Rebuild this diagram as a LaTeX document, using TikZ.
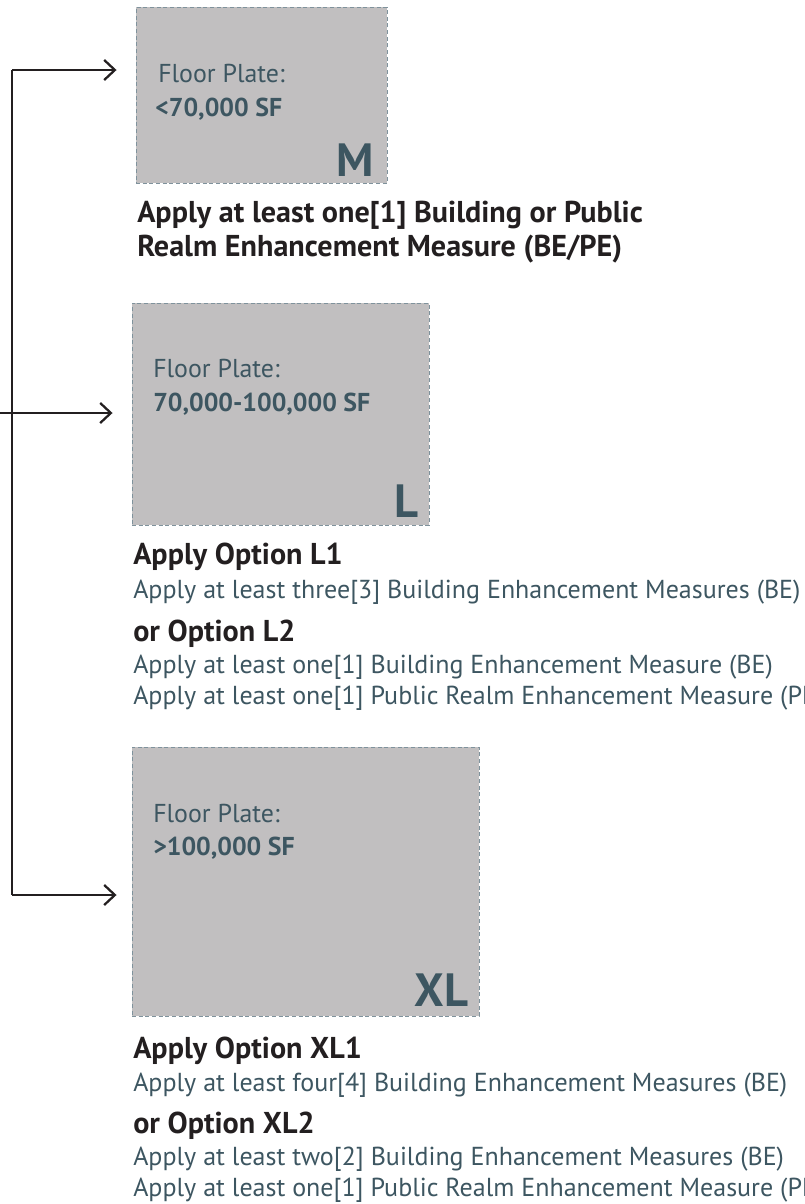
\documentclass[tikz,border=0pt]{standalone}
\usepackage{fontspec}
\setmainfont{PT Sans}
\usepackage{tikz}
\usetikzlibrary{arrows.meta,positioning,fit}
\definecolor{platec}{HTML}{C1BFC0}
\definecolor{edgec}{HTML}{7F929C}
\definecolor{slatec}{HTML}{3D5661}
\definecolor{inkc}{HTML}{231F20}
\tikzset{
  lnk/.style={-{Straight Barb[length=8pt,width=15pt,line width=1.7pt]},line width=1.8pt,inkc},
  plate/.style={draw=edgec,densely dashed,line width=0.7pt,fill=platec,inner sep=0pt},
  fp/.style={anchor=base west,inner sep=0pt,text=slatec,font=\fontsize{19.4}{22}\selectfont},
  fpb/.style={fp,font=\fontsize{19.4}{22}\selectfont\bfseries},
  tag/.style={anchor=south east,inner sep=0pt,text=slatec,font=\fontsize{35}{40}\selectfont\bfseries},
  hd/.style={anchor=base west,inner sep=0pt,text=inkc,font=\fontsize{22.6}{26}\selectfont\bfseries},
  bd/.style={anchor=base west,inner sep=0pt,text=slatec,font=\fontsize{19.5}{23}\selectfont}
}
\begin{document}
\begin{tikzpicture}[x=0.75pt,y=-0.75pt]
\clip (0,0) rectangle (804,1204);
% plates
\node[plate,fit={(136,7)(387,183)}] (boxM) {};
\node[plate,fit={(132,303)(429,525)}] (boxL) {};
\node[plate,fit={(132,747)(479,1016)}] (boxXL) {};
\node[fp] (fpM) at (158,82) {Floor Plate:};
\node[fpb] (sfM) at (155,116) {<70,000 SF};
\node[fp] (fpL) at (153,377) {Floor Plate:};
\node[fpb] (sfL) at (153,411) {70,000-100,000 SF};
\node[fp] (fpXL) at (153,822) {Floor Plate:};
\node[fpb] (sfXL) at (153,855) {>100,000 SF};
\node[tag] (tagM) at ([shift={(-13,-7)}]boxM.south east) {M};
\node[tag] (tagL) at ([shift={(-11,-8)}]boxL.south east) {L};
\node[tag] (tagXL) at ([shift={(-11,-10)}]boxXL.south east) {XL};
% spine and arrows
\coordinate (spTop) at (12,70);
\coordinate (spBot) at (12,895);
\coordinate (spMid) at (0,413);
\draw[line width=1.9pt,inkc] (spTop) -- (spBot);
\draw[lnk,shorten >=14.25pt] (spTop) -- (spTop -| boxM.west);
\draw[lnk,shorten >=14.25pt] (spMid) -- (spMid -| boxL.west);
\draw[lnk,shorten >=11.25pt] (spBot) -- (spBot -| boxXL.west);
% texts
\node[hd] (hM1) at (137,222) {Apply at least one[1] Building or Public};
\node[hd] (hM2) at (137,256) {Realm Enhancement Measure (BE/PE)};
\node[hd] (hL1) at (133,564) {Apply Option L1};
\node[bd] (tL1) at (133,598) {Apply at least three[3] Building Enhancement Measures (BE)};
\node[hd] (hL2) at (133,641) {or Option L2};
\node[bd] (tL2) at (133,673) {Apply at least one[1] Building Enhancement Measure (BE)};
\node[bd] (tL3) at (133,704) {Apply at least one[1] Public Realm Enhancement Measure (PE)};
\node[hd] (hX1) at (133,1058) {Apply Option XL1};
\node[bd] (tX1) at (133,1091) {Apply at least four[4] Building Enhancement Measures (BE)};
\node[hd] (hX2) at (133,1133) {or Option XL2};
\node[bd] (tX2) at (133,1165) {Apply at least two[2] Building Enhancement Measures (BE)};
\node[bd] (tX3) at (133,1196) {Apply at least one[1] Public Realm Enhancement Measure (PE)};
\end{tikzpicture}
\end{document}
